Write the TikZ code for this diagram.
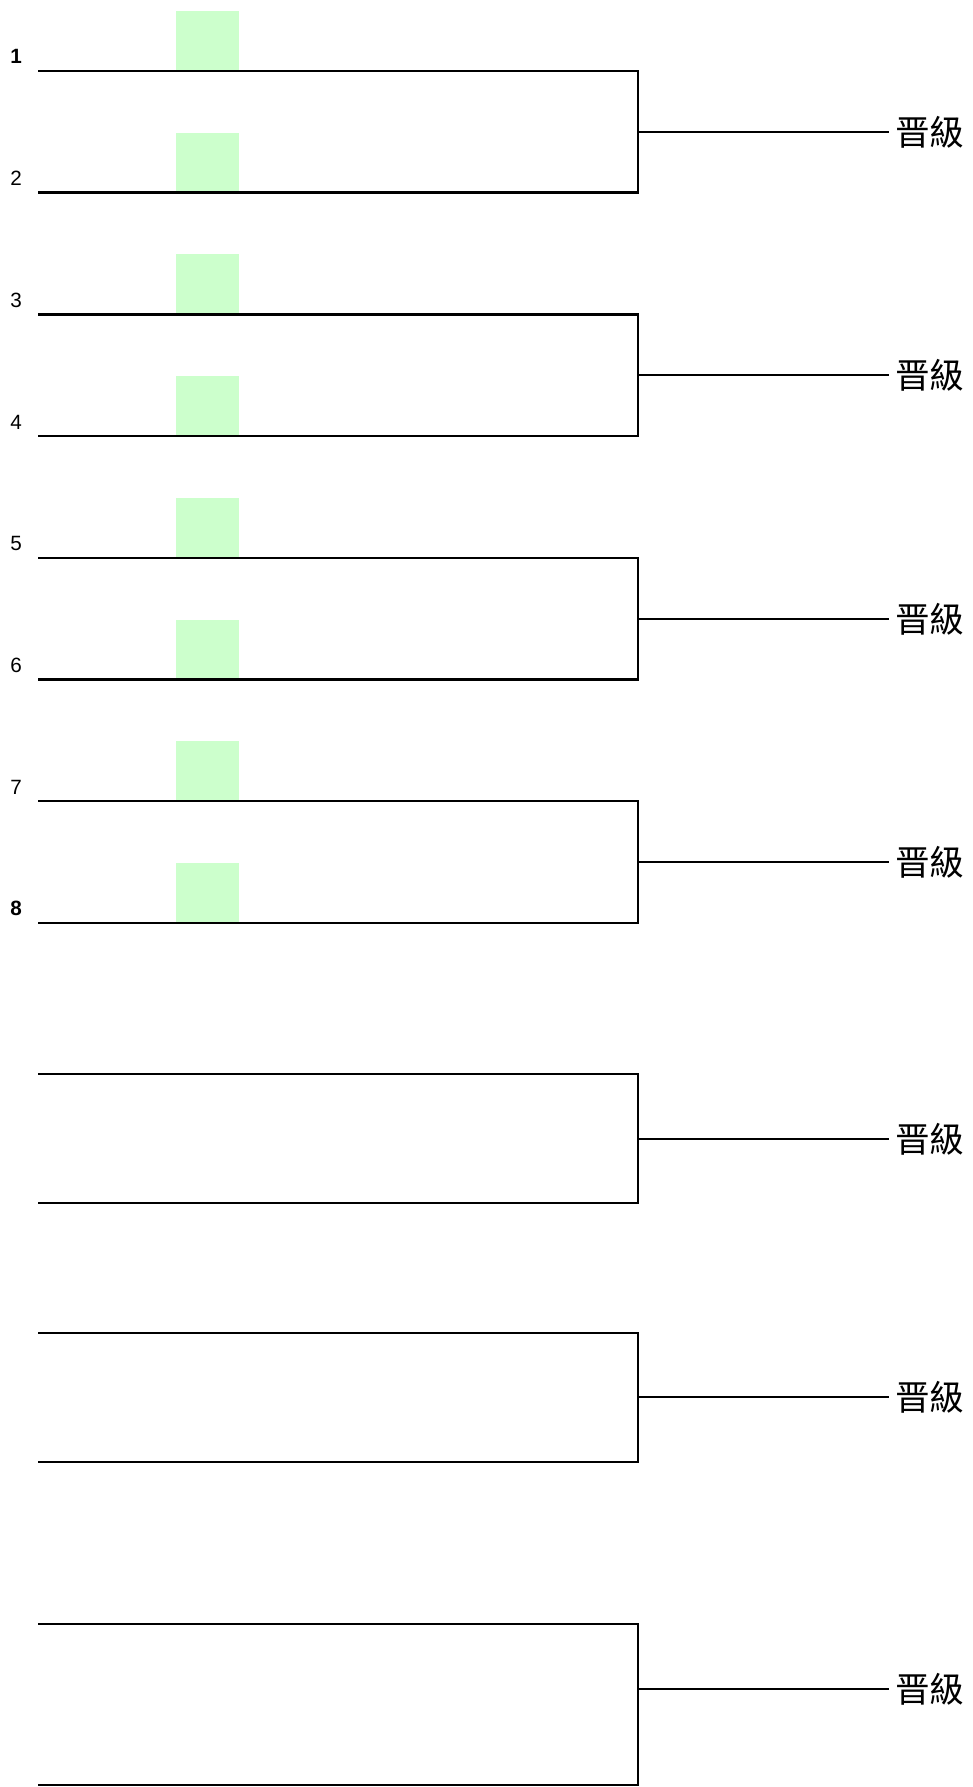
\documentclass[tikz,border=0pt]{standalone}
\usepackage{fontspec}
\usetikzlibrary{calc}
\setmainfont{Liberation Sans}
\newfontfamily\cjk{Noto Sans CJK TC}
\definecolor{boxgreen}{RGB}{204,255,204}
\tikzset{
  x=0.75pt, y=-0.75pt,
  bline/.style={line width=1.9pt, line join=miter},
  gbox/.style={fill=boxgreen, draw=none},
  seedlabel/.style={anchor=base west, inner sep=0pt, font=\fontsize{15.5pt}{18pt}\selectfont},
  advlabel/.style={anchor=west, inner ysep=0pt, inner xsep=4.5pt, font=\cjk\fontsize{26pt}{30pt}\selectfont},
}
\begin{document}
\begin{tikzpicture}
\useasboundingbox (0,0) rectangle (973,1787);
% green boxes
\foreach \i/\yy in {1/71,2/192.7,3/314.4,4/436.1,5/557.8,6/679.5,7/801.2,8/922.9}{
  \fill[gbox] (176,\yy-60) rectangle (239,\yy);
  \coordinate (L\i) at (38,\yy);
  \coordinate (R\i) at (638,\yy);
}
% labels
\node[seedlabel, font=\bfseries\fontsize{15.5pt}{18pt}\selectfont] (n1) at (10,71-7) {1};
\node[seedlabel] (n2) at (10,192.7-7) {2};
\node[seedlabel] (n3) at (10,314.4-7) {3};
\node[seedlabel] (n4) at (10,436.1-7) {4};
\node[seedlabel] (n5) at (10,557.8-7) {5};
\node[seedlabel] (n6) at (10,679.5-7) {6};
\node[seedlabel] (n7) at (10,801.2-7) {7};
\node[seedlabel, font=\bfseries\fontsize{15.5pt}{18pt}\selectfont] (n8) at (10,922.9-7) {8};
% extra lines for lower brackets
\coordinate (L9) at (38,1074);  \coordinate (R9) at (638,1074);
\coordinate (L10) at (38,1203); \coordinate (R10) at (638,1203);
\coordinate (L11) at (38,1333); \coordinate (R11) at (638,1333);
\coordinate (L12) at (38,1462); \coordinate (R12) at (638,1462);
\coordinate (L13) at (38,1624); \coordinate (R13) at (638,1624);
\coordinate (L14) at (38,1785); \coordinate (R14) at (638,1785);
% brackets, connectors and labels
\foreach \a/\b/\k/\my in {1/2/1/132,3/4/2/375,5/6/3/619,7/8/4/862,9/10/5/1139,11/12/6/1397,13/14/7/1689}{
  \draw[bline] (L\a) -- (R\a) -- (R\b) -- (L\b);
  \coordinate (M\k) at (638,\my);
  \node[advlabel] (T\k) at (889,\my) {晋級};
  \draw[bline] (M\k) -- (T\k.west);
}
\end{tikzpicture}
\end{document}
